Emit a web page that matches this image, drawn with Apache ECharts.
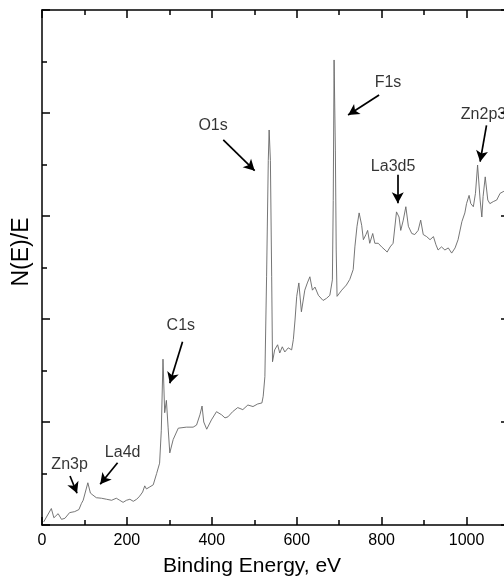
<!DOCTYPE html>
<html>
<head>
<meta charset="utf-8">
<script src="https://cdn.jsdelivr.net/npm/echarts@6/dist/echarts.min.js"></script>
<style>
html,body{margin:0;padding:0;background:#fff;}
#chart{width:504px;height:581px;}
</style>
</head>
<body>
<div id="chart"></div>
<script>
// Binding energy (eV)
const energy = [4,22,28,38,46,54,65,77,87,93,97,101,108,114,120,128,140,152,164,175,183,191,199,207,215,223,230,237,242,246,254,262,270,277,281,285,289,293,297,301,309,321,340,356,364,372,377,381,388,399,411,423,431,438,449,461,473,485,497,508,518,521,525,529,533,535,538,541,543,548,555,560,566,572,580,588,592,596,600,605,611,619,625,631,637,643,651,662,670,678,684,686,688,691,693,695,706,717,725,729,733,737,742,747,753,757,763,767,772,779,784,792,800,808,813,820,827,835,841,845,851,857,863,871,878,886,892,898,906,914,922,928,933,941,949,957,965,973,980,989,996,1000,1006,1010,1016,1021,1026,1032,1036,1039,1044,1050,1055,1063,1071,1079,1088,1095,1100];
// N(E)/E intensity (arb. units)
const intensity = [0.03,0.16,0.07,0.11,0.055,0.065,0.12,0.13,0.15,0.21,0.24,0.23,0.41,0.31,0.29,0.265,0.26,0.25,0.24,0.26,0.24,0.22,0.24,0.25,0.23,0.25,0.28,0.32,0.38,0.35,0.37,0.39,0.5,0.6,0.92,1.61,1.09,1.21,0.95,0.7,0.83,0.94,0.95,0.95,0.97,1.07,1.155,1.0,0.93,1.02,1.1,1.07,1.04,1.05,1.1,1.14,1.12,1.165,1.15,1.175,1.185,1.25,1.44,2.41,3.54,3.835,3.54,2.41,1.585,1.7,1.75,1.67,1.73,1.68,1.72,1.7,1.8,1.99,2.22,2.35,2.07,2.28,2.35,2.41,2.28,2.31,2.23,2.18,2.2,2.23,2.38,3.15,4.515,3.64,2.67,2.22,2.28,2.33,2.385,2.395,2.48,2.7,2.9,3.03,2.91,2.77,2.82,2.86,2.735,2.83,2.735,2.735,2.7,2.67,2.65,2.7,2.735,3.04,2.99,2.86,2.96,3.09,2.9,2.83,2.82,2.86,2.96,2.82,2.8,2.77,2.8,2.72,2.67,2.7,2.67,2.69,2.64,2.69,2.77,2.945,3.03,3.12,3.2,3.12,3.09,3.22,3.495,3.155,2.99,3.19,3.38,3.155,3.12,3.14,3.155,3.22,3.24,3.25,3.23];
// Peak annotations: label, label anchor [eV, value], arrow tail, arrow head
const peakLabels = ['Zn3p','La4d','C1s','O1s','F1s','La3d5','Zn2p3'];
const labelAt = [[65,0.59],[190,0.70],[327,1.94],[403,3.88],[815,4.30],[827,3.48],[1040,3.98]];
const arrowFrom = [[66,0.476],[178,0.605],[331,1.78],[427,3.74],[794,4.175],[838,3.40],[1047,3.88]];
const arrowTo = [[82.5,0.308],[137,0.395],[301,1.376],[501,3.44],[721,3.98],[838,3.123],[1032,3.527]];
const xLabelValues = [0,200,400,600,800,1000];
const xTitle = 'Binding Energy, eV';
const yTitle = 'N(E)/E';

const chart = echarts.init(document.getElementById('chart'));
const font = 'Liberation Sans, Arial, sans-serif';
const tickStyle = {color:'#000',width:1.5};
const axisCommon = {
  axisLine:{show:true,onZero:false,lineStyle:{color:'#000',width:1.5}},
  axisTick:{show:true,inside:true,length:8,lineStyle:tickStyle},
  minorTick:{show:true,splitNumber:2,length:5,lineStyle:tickStyle},
  splitLine:{show:false},
  minorSplitLine:{show:false}
};
chart.setOption({
  animation:false,
  grid:{left:42,top:10,width:467,height:515,outerBoundsMode:'none',containLabel:false},
  xAxis:[
    Object.assign({type:'value',min:0,max:1100,interval:200,position:'bottom',
      axisLabel:{fontFamily:font,fontSize:16,color:'#000',margin:8,showMaxLabel:false,
        formatter:v=>xLabelValues.indexOf(v)>=0?String(v):''}}, axisCommon),
    Object.assign({type:'value',min:0,max:1100,interval:200,position:'top',axisLabel:{show:false}}, axisCommon)
  ],
  yAxis:[
    Object.assign({type:'value',min:0,max:5,interval:1,position:'left',axisLabel:{show:false}}, axisCommon),
    Object.assign({type:'value',min:0,max:5,interval:1,position:'right',axisLabel:{show:false}}, axisCommon)
  ],
  graphic:[
    {type:'text',left:'center',top:556,style:{text:xTitle,font:'21px '+font,fill:'#000'}},
    {type:'text',rotation:Math.PI/2,x:22,y:252,
     style:{text:yTitle,font:'23px '+font,fill:'#000',align:'center',verticalAlign:'middle'}}
  ],
  series:[
    {type:'line',data:energy.map((e,i)=>[e,intensity[i]]),showSymbol:false,
     lineStyle:{color:'#666',width:0.9},
     markLine:{silent:true,symbol:['none','arrow'],symbolSize:[9,11],
       label:{show:false},
       lineStyle:{color:'#000',width:1.7,type:'solid'},
       data:arrowFrom.map((f,i)=>[{coord:f},{coord:arrowTo[i]}])}
    },
    {type:'scatter',symbolSize:0,silent:true,
     data:peakLabels.map((n,i)=>({name:n,value:labelAt[i]})),
     label:{show:true,position:'inside',formatter:p=>p.name,fontFamily:font,fontSize:16,color:'#000'}}
  ]
});
</script>
</body>
</html>
